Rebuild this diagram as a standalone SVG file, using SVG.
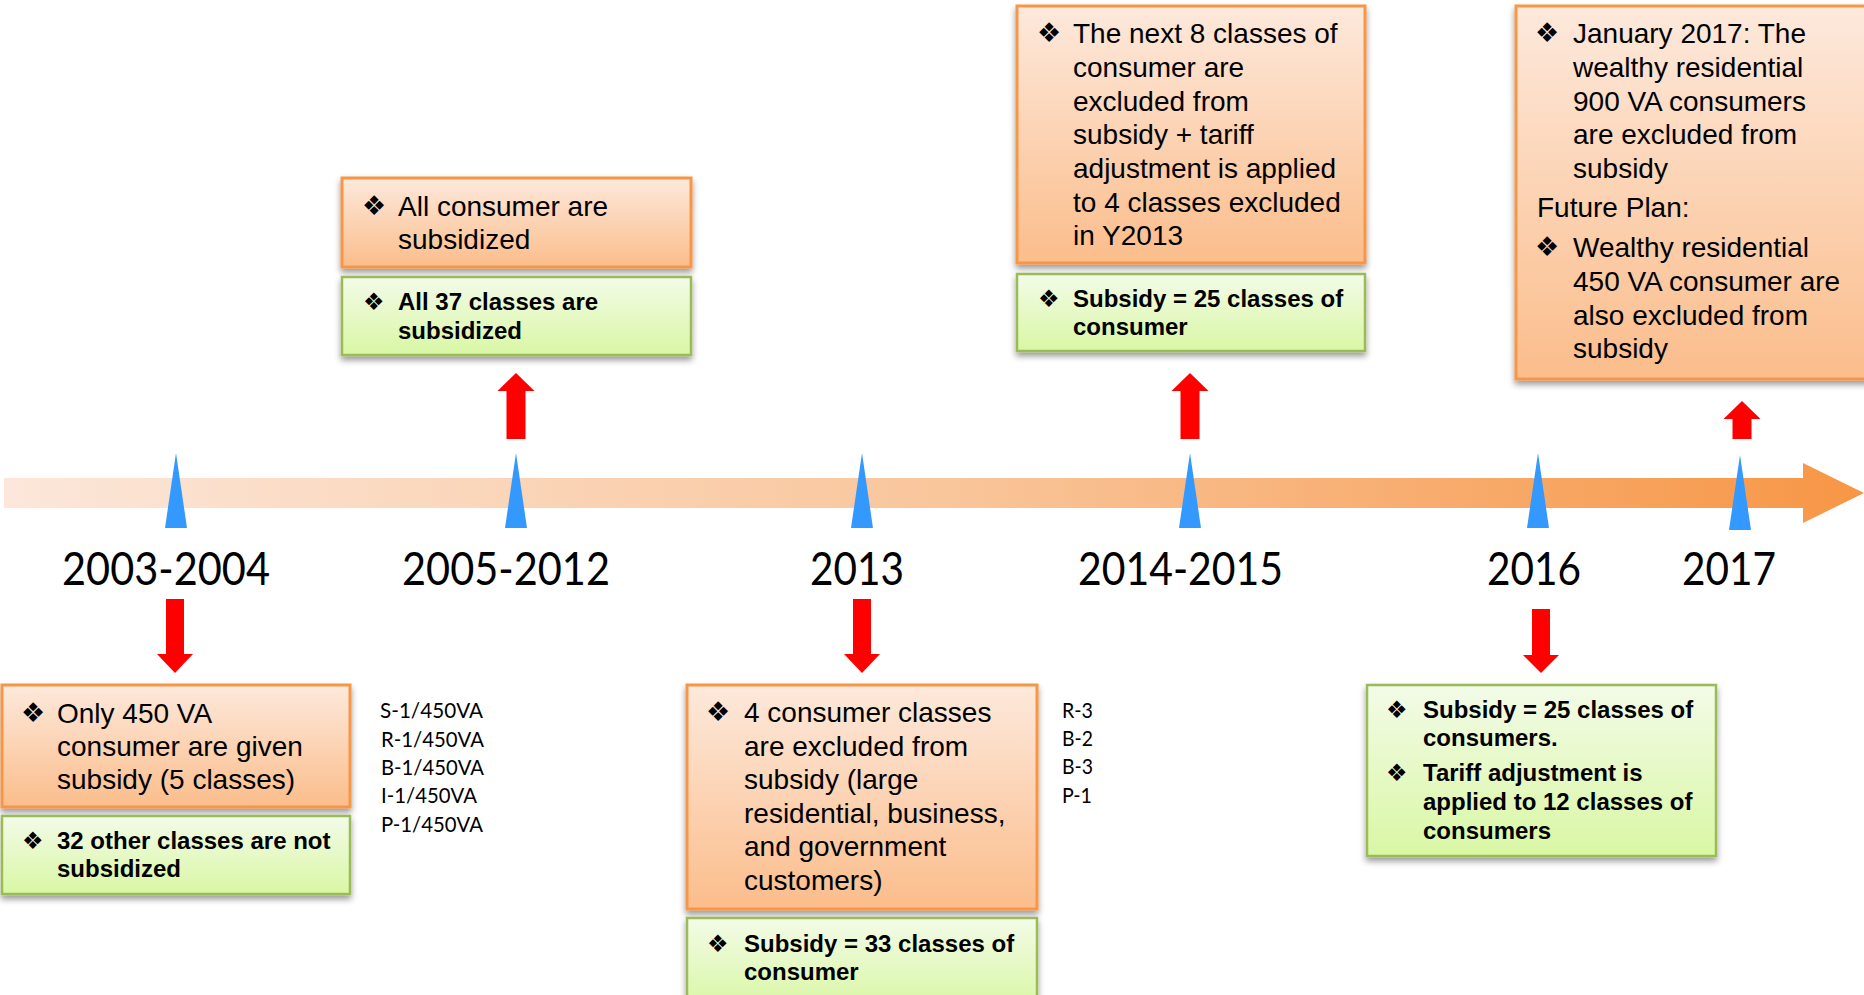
<svg xmlns="http://www.w3.org/2000/svg" width="1864" height="995" viewBox="0 0 1864 995">
<defs>
  <linearGradient id="gOr" x1="0" y1="0" x2="0" y2="1">
    <stop offset="0" stop-color="#fde9dc"/>
    <stop offset="1" stop-color="#fbbd8b"/>
  </linearGradient>
  <linearGradient id="gGr" x1="0" y1="0" x2="0" y2="1">
    <stop offset="0" stop-color="#f3fbe8"/>
    <stop offset="1" stop-color="#d9f7a4"/>
  </linearGradient>
  <linearGradient id="gBar" gradientUnits="userSpaceOnUse" x1="4" y1="0" x2="1864" y2="0">
    <stop offset="0" stop-color="#fce7da"/>
    <stop offset="0.5" stop-color="#f9c69c"/>
    <stop offset="1" stop-color="#f79646"/>
  </linearGradient>
  <filter id="sh" x="-5%" y="-10%" width="110%" height="130%">
    <feDropShadow dx="0" dy="4" stdDeviation="3" flood-color="#000" flood-opacity="0.4"/>
  </filter>
</defs>
<style>
  .ob{fill:url(#gOr);stroke:#f79646;stroke-width:3;filter:url(#sh)}
  .gb{fill:url(#gGr);stroke:#9bbb59;stroke-width:2.5;filter:url(#sh)}
  .t{font-family:"Liberation Sans",Arial,sans-serif;font-size:28px;fill:#000}
  .b{font-family:"Liberation Sans",Arial,sans-serif;font-size:24px;font-weight:bold;fill:#000}
  .bu{font-family:"DejaVu Sans",sans-serif;font-size:27px;fill:#000}
  .bs{font-family:"DejaVu Sans",sans-serif;font-size:24px;fill:#000}
  .yr{font-family:Lato,"Open Sans",sans-serif;font-size:47px;fill:#000}
  .sd{font-family:Lato,"Open Sans",sans-serif;font-size:22px;fill:#000}
  .tri{fill:#3399ff}
  .ar{fill:#ff0000}
</style>
<rect width="1864" height="995" fill="#ffffff"/>

<g id="timeline">
  <path d="M4,478 H1803 V463 L1864,493 L1803,523 V508 H4 Z" fill="url(#gBar)"/>
  <polygon class="tri" points="176,453 187,528 165,528"/>
  <polygon class="tri" points="516,453 527,528 505,528"/>
  <polygon class="tri" points="862,453 873,528 851,528"/>
  <polygon class="tri" points="1190,453 1201,528 1179,528"/>
  <polygon class="tri" points="1538,453 1549,528 1527,528"/>
  <polygon class="tri" points="1740,455 1751,530 1729,530"/>
  <text class="yr" x="62" y="585" textLength="208" lengthAdjust="spacingAndGlyphs">2003-2004</text>
  <text class="yr" x="402" y="585" textLength="208" lengthAdjust="spacingAndGlyphs">2005-2012</text>
  <text class="yr" x="810" y="585" textLength="94" lengthAdjust="spacingAndGlyphs">2013</text>
  <text class="yr" x="1078" y="585" textLength="205" lengthAdjust="spacingAndGlyphs">2014-2015</text>
  <text class="yr" x="1487" y="585" textLength="94" lengthAdjust="spacingAndGlyphs">2016</text>
  <text class="yr" x="1682" y="585" textLength="94" lengthAdjust="spacingAndGlyphs">2017</text>
</g>

<g id="connectors">
  <polygon class="ar" points="166,599 184,599 184,654 193,654 175,673 157,654 166,654"/>
  <polygon class="ar" points="516,373 534.5,391 525.5,391 525.5,439 506.5,439 506.5,391 497.5,391"/>
  <polygon class="ar" points="853,599 871,599 871,654 880,654 862,673 844,654 853,654"/>
  <polygon class="ar" points="1190,373 1208.5,391 1199.5,391 1199.5,439 1180.5,439 1180.5,391 1171.5,391"/>
  <polygon class="ar" points="1532,609 1550,609 1550,655 1559,655 1541,673 1523,655 1532,655"/>
  <polygon class="ar" points="1742,401 1760.5,419 1751.5,419 1751.5,439 1732.5,439 1732.5,419 1723.5,419"/>
</g>

<g id="node-2003-2004">
  <rect class="ob" x="2" y="685" width="348" height="122"/>
  <text class="bu" x="21" y="722">❖</text>
  <text class="t" x="57" y="723">Only 450 VA</text>
  <text class="t" x="57" y="756">consumer are given</text>
  <text class="t" x="57" y="789">subsidy (5 classes)</text>
  <rect class="gb" x="2" y="816" width="348" height="78"/>
  <text class="bs" x="22" y="849">❖</text>
  <text class="b" x="57" y="849">32 other classes are not</text>
  <text class="b" x="57" y="877">subsidized</text>
</g>

<g id="classes-2003-2004">
  <text class="sd" x="380" y="718" textLength="103" lengthAdjust="spacingAndGlyphs">S-1/450VA</text>
  <text class="sd" x="381" y="747" textLength="103" lengthAdjust="spacingAndGlyphs">R-1/450VA</text>
  <text class="sd" x="381" y="775" textLength="103" lengthAdjust="spacingAndGlyphs">B-1/450VA</text>
  <text class="sd" x="381" y="803" textLength="96" lengthAdjust="spacingAndGlyphs">I-1/450VA</text>
  <text class="sd" x="381" y="832" textLength="102" lengthAdjust="spacingAndGlyphs">P-1/450VA</text>
</g>

<g id="node-2005-2012">
  <rect class="ob" x="342" y="178" width="349" height="89"/>
  <text class="bu" x="362" y="215">❖</text>
  <text class="t" x="398" y="216">All consumer are</text>
  <text class="t" x="398" y="249">subsidized</text>
  <rect class="gb" x="342" y="277" width="349" height="78"/>
  <text class="bs" x="363" y="310">❖</text>
  <text class="b" x="398" y="310">All 37 classes are</text>
  <text class="b" x="398" y="339">subsidized</text>
</g>

<g id="node-2013">
  <rect class="ob" x="687" y="685" width="350" height="224"/>
  <text class="bu" x="706" y="721">❖</text>
  <text class="t" x="744" y="722">4 consumer classes</text>
  <text class="t" x="744" y="756">are excluded from</text>
  <text class="t" x="744" y="789">subsidy (large</text>
  <text class="t" x="744" y="823">residential, business,</text>
  <text class="t" x="744" y="856">and government</text>
  <text class="t" x="744" y="890">customers)</text>
  <rect class="gb" x="687" y="918" width="350" height="90"/>
  <text class="bs" x="707" y="952">❖</text>
  <text class="b" x="744" y="952">Subsidy = 33 classes of</text>
  <text class="b" x="744" y="980">consumer</text>
</g>

<g id="classes-2013">
  <text class="sd" x="1062" y="718" textLength="31" lengthAdjust="spacingAndGlyphs">R-3</text>
  <text class="sd" x="1062" y="746" textLength="31" lengthAdjust="spacingAndGlyphs">B-2</text>
  <text class="sd" x="1062" y="774" textLength="31" lengthAdjust="spacingAndGlyphs">B-3</text>
  <text class="sd" x="1062" y="803" textLength="30" lengthAdjust="spacingAndGlyphs">P-1</text>
</g>

<g id="node-2014-2015">
  <rect class="ob" x="1017" y="6" width="348" height="257"/>
  <text class="bu" x="1037" y="42">❖</text>
  <text class="t" x="1073" y="43">The next 8 classes of</text>
  <text class="t" x="1073" y="77">consumer are</text>
  <text class="t" x="1073" y="111">excluded from</text>
  <text class="t" x="1073" y="144">subsidy + tariff</text>
  <text class="t" x="1073" y="178">adjustment is applied</text>
  <text class="t" x="1073" y="212">to 4 classes excluded</text>
  <text class="t" x="1073" y="245">in Y2013</text>
  <rect class="gb" x="1017" y="274" width="348" height="77"/>
  <text class="bs" x="1038" y="307">❖</text>
  <text class="b" x="1073" y="307">Subsidy = 25 classes of</text>
  <text class="b" x="1073" y="335">consumer</text>
</g>

<g id="node-2016">
  <rect class="gb" x="1367" y="685" width="349" height="171"/>
  <text class="bs" x="1386" y="718">❖</text>
  <text class="b" x="1423" y="718">Subsidy = 25 classes of</text>
  <text class="b" x="1423" y="746">consumers.</text>
  <text class="bs" x="1386" y="781">❖</text>
  <text class="b" x="1423" y="781">Tariff adjustment is</text>
  <text class="b" x="1423" y="810">applied to 12 classes of</text>
  <text class="b" x="1423" y="839">consumers</text>
</g>

<g id="node-2017">
  <rect class="ob" x="1516" y="6" width="352" height="373"/>
  <text class="bu" x="1535" y="42">❖</text>
  <text class="t" x="1573" y="43">January 2017: The</text>
  <text class="t" x="1573" y="77">wealthy residential</text>
  <text class="t" x="1573" y="111">900 VA consumers</text>
  <text class="t" x="1573" y="144">are excluded from</text>
  <text class="t" x="1573" y="178">subsidy</text>
  <text class="t" x="1537" y="217">Future Plan:</text>
  <text class="bu" x="1535" y="256">❖</text>
  <text class="t" x="1573" y="257">Wealthy residential</text>
  <text class="t" x="1573" y="291">450 VA consumer are</text>
  <text class="t" x="1573" y="325">also excluded from</text>
  <text class="t" x="1573" y="358">subsidy</text>
</g>
</svg>
